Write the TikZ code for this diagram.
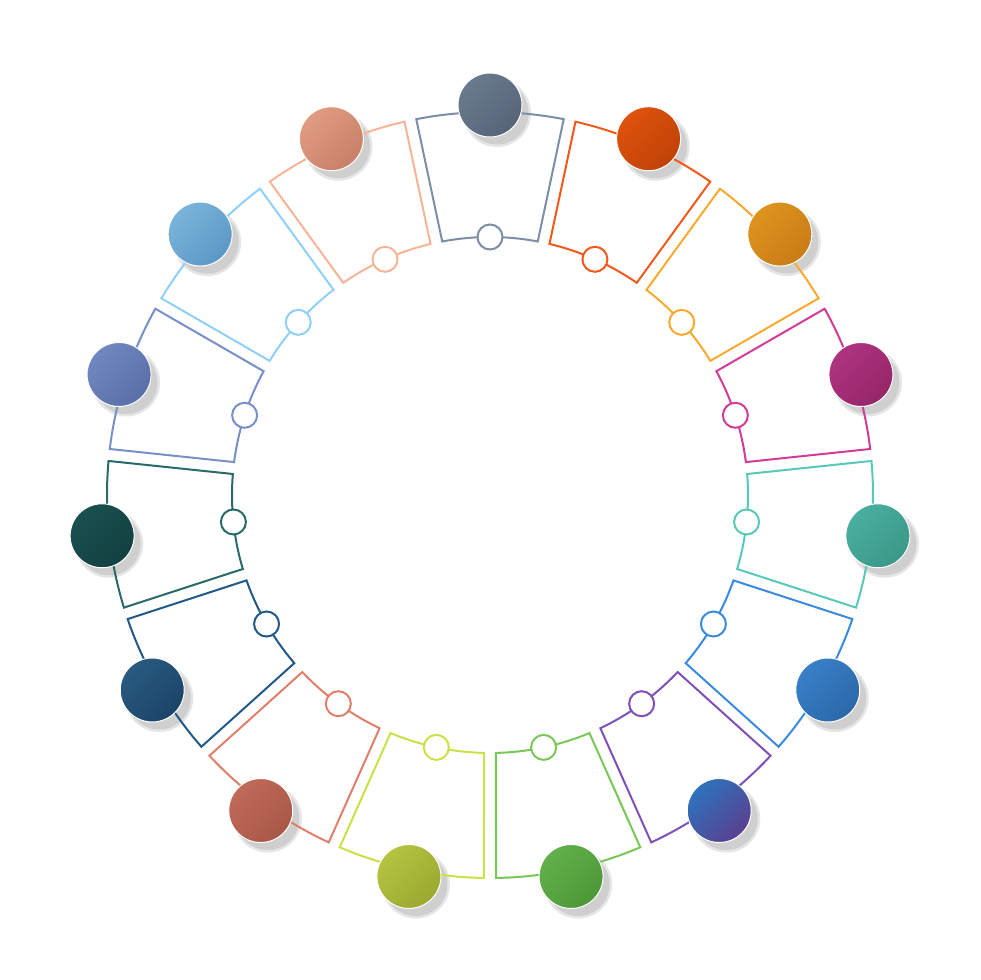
\documentclass[tikz,border=0pt]{standalone}
\definecolor{segO0}{HTML}{7D8FA6}\definecolor{segL0}{HTML}{6A7B8E}\definecolor{segD0}{HTML}{566478}
\definecolor{segO1}{HTML}{F2581A}\definecolor{segL1}{HTML}{DE520C}\definecolor{segD1}{HTML}{C04208}
\definecolor{segO2}{HTML}{F7AA30}\definecolor{segL2}{HTML}{DE941E}\definecolor{segD2}{HTML}{C87C16}
\definecolor{segO3}{HTML}{D03C98}\definecolor{segL3}{HTML}{AE3480}\definecolor{segD3}{HTML}{962668}
\definecolor{segO4}{HTML}{58C8B8}\definecolor{segL4}{HTML}{4AAFA0}\definecolor{segD4}{HTML}{3A9888}
\definecolor{segO5}{HTML}{3A8AE0}\definecolor{segL5}{HTML}{3A80C8}\definecolor{segD5}{HTML}{2A68A8}
\definecolor{segO6}{HTML}{8050B8}\definecolor{segL6}{HTML}{2E72BC}\definecolor{segD6}{HTML}{5A4090}
\definecolor{segO7}{HTML}{78C858}\definecolor{segL7}{HTML}{62B04A}\definecolor{segD7}{HTML}{4C9838}
\definecolor{segO8}{HTML}{CCE048}\definecolor{segL8}{HTML}{B4C440}\definecolor{segD8}{HTML}{9CA830}
\definecolor{segO9}{HTML}{E0806C}\definecolor{segL9}{HTML}{C06A58}\definecolor{segD9}{HTML}{A85848}
\definecolor{segO10}{HTML}{215A88}\definecolor{segL10}{HTML}{2A5A80}\definecolor{segD10}{HTML}{1A4468}
\definecolor{segO11}{HTML}{2A6A6A}\definecolor{segL11}{HTML}{1A5050}\definecolor{segD11}{HTML}{124040}
\definecolor{segO12}{HTML}{7890C8}\definecolor{segL12}{HTML}{7088C0}\definecolor{segD12}{HTML}{5A6EA8}
\definecolor{segO13}{HTML}{90D0F8}\definecolor{segL13}{HTML}{7AB4DA}\definecolor{segD13}{HTML}{5C98C6}
\definecolor{segO14}{HTML}{F8B498}\definecolor{segL14}{HTML}{E09C82}\definecolor{segD14}{HTML}{C88068}
\begin{document}
\begin{tikzpicture}[x=1pt,y=1pt]
\useasboundingbox[fill=white] (-490,-485) rectangle (490,495);
\def\Ro{383}\def\Ri{258}\def\Rc{390}
\tikzset{
  segline/.style={line width=2pt, line join=miter},
  hole/.style={circle, minimum size=25pt, inner sep=0pt, fill=white, line width=2pt},
  ball/.style={circle, minimum size=64pt, inner sep=0pt, draw=white, line width=1pt},
  ballshadeA/.style={circle, minimum size=68pt, inner sep=0pt, fill=black!10},
  ballshadeB/.style={circle, minimum size=63pt, inner sep=0pt, fill=black!19},
}
\foreach \k in {0,...,14}{
  \pgfmathsetmacro\ang{90-24*\k}
  \pgfmathsetmacro\oa{\ang+11.1}
  \pgfmathsetmacro\ob{\ang-11.1}
  \pgfmathsetmacro\ia{\ang-10.67}
  \pgfmathsetmacro\ib{\ang+10.67}
  \coordinate (p\k) at (\ang:\Rc);
  \node[ballshadeA] (sa\k) at ([shift={(7,-8)}]p\k) {};
  \node[ballshadeB] (sb\k) at ([shift={(7,-8)}]p\k) {};
  \draw[segline, draw=segO\k] (\oa:\Ro) arc[start angle=\oa, end angle=\ob, radius=\Ro]
     -- (\ia:\Ri) arc[start angle=\ia, end angle=\ib, radius=\Ri] -- cycle;
  \node[hole, draw=segO\k] (h\k) at (\ang:\Ri) {};
  \node[ball, top color=segL\k, bottom color=segD\k, shading angle=45] (b\k) at (p\k) {};
}
\end{tikzpicture}
\end{document}
